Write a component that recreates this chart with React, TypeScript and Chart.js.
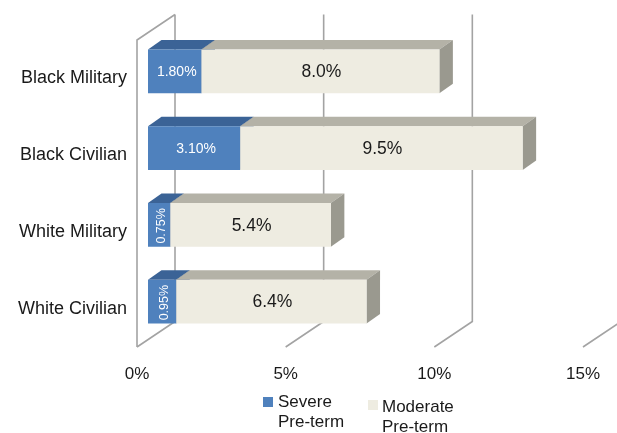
import React, { useEffect, useRef } from "react";
import { Chart, registerables } from "chart.js";

Chart.register(...registerables);

// Pre-term birth rates (%) by group
const categories = ["Black Military", "Black Civilian", "White Military", "White Civilian"];
const severeValues = [1.8, 3.1, 0.75, 0.95];
const moderateValues = [8.0, 9.5, 5.4, 6.4];
const xTickValues = [0, 5, 10, 15];
const seriesNames = ["Severe Pre-term", "Moderate Pre-term"];
const legendLines = [
  ["Severe", "Pre-term"],
  ["Moderate", "Pre-term"],
];

const FONT = '"Liberation Sans", Arial, Helvetica, sans-serif';
const TEXT = "#1a1a1a";

// depth of the 3D box (back wall offset) and of the bars inside it
const WALL = { dx: 38, dy: -25.5 };
const BAR_FRONT = { dx: 11, dy: -7 };
const BAR_DEPTH = { dx: 13.5, dy: -9.5 };

const faces = [
  { front: "#4f81bd", top: "#3b6396", side: "#30527d" },
  { front: "#eeece1", top: "#b4b2a7", side: "#9a998f" },
];

const box3d = {
  id: "box3d",
  beforeDatasetsDraw(chart: any) {
    const { ctx, chartArea: a } = chart;
    const xs = chart.scales.x;
    ctx.save();
    ctx.strokeStyle = "#a3a3a3";
    ctx.lineWidth = 1.6;
    ctx.beginPath();
    // left side wall edges
    ctx.moveTo(a.left, a.bottom);
    ctx.lineTo(a.left, a.top);
    ctx.lineTo(a.left + WALL.dx, a.top + WALL.dy);
    // floor lines and back-wall gridlines
    for (const v of xTickValues) {
      const px = xs.getPixelForValue(v);
      ctx.moveTo(px, a.bottom);
      ctx.lineTo(px + WALL.dx, a.bottom + WALL.dy);
      ctx.lineTo(px + WALL.dx, a.top + WALL.dy);
    }
    ctx.stroke();
    ctx.restore();
  },
  beforeDatasetDraw() {
    return false;
  },
  afterDatasetsDraw(chart: any) {
    const ctx = chart.ctx as CanvasRenderingContext2D;
    const metas = chart.getSortedVisibleDatasetMetas();
    const n = chart.data.labels.length;
    const { dx, dy } = BAR_DEPTH;
    ctx.save();
    for (let i = 0; i < n; i++) {
      metas.forEach((meta: any, di: number) => {
        const el = meta.data[i];
        const { x, y, base, height } = el.getProps(["x", "y", "base", "height"], true);
        const x0 = Math.min(base, x) + BAR_FRONT.dx;
        const x1 = Math.max(base, x) + BAR_FRONT.dx;
        const yt = y - height / 2 + BAR_FRONT.dy;
        const yb = y + height / 2 + BAR_FRONT.dy;
        const c = faces[di];
        // top face
        ctx.fillStyle = c.top;
        ctx.beginPath();
        ctx.moveTo(x0, yt);
        ctx.lineTo(x1, yt);
        ctx.lineTo(x1 + dx, yt + dy);
        ctx.lineTo(x0 + dx, yt + dy);
        ctx.closePath();
        ctx.fill();
        // right face
        ctx.fillStyle = c.side;
        ctx.beginPath();
        ctx.moveTo(x1, yt);
        ctx.lineTo(x1 + dx, yt + dy);
        ctx.lineTo(x1 + dx, yb + dy);
        ctx.lineTo(x1, yb);
        ctx.closePath();
        ctx.fill();
        // front face
        ctx.fillStyle = c.front;
        ctx.fillRect(x0, yt, x1 - x0, yb - yt);
      });
    }
    // value labels on the front faces
    for (let i = 0; i < n; i++) {
      metas.forEach((meta: any, di: number) => {
        const el = meta.data[i];
        const { x, y, base } = el.getProps(["x", "y", "base"], true);
        const x0 = Math.min(base, x) + BAR_FRONT.dx;
        const x1 = Math.max(base, x) + BAR_FRONT.dx;
        const cy = y + BAR_FRONT.dy;
        const cx = (x0 + x1) / 2;
        const v = chart.data.datasets[di].data[i] as number;
        ctx.textAlign = "center";
        ctx.textBaseline = "middle";
        if (di === 0) {
          const text = v.toFixed(2) + "%";
          ctx.fillStyle = "#ffffff";
          if (x1 - x0 < 40) {
            ctx.font = `12.5px ${FONT}`;
            ctx.save();
            ctx.translate(cx + 2, cy + 1);
            ctx.rotate(-Math.PI / 2);
            ctx.fillText(text, 0, 0);
            ctx.restore();
          } else {
            ctx.font = `14px ${FONT}`;
            ctx.fillText(text, cx + 2, cy + 1);
          }
        } else {
          ctx.fillStyle = TEXT;
          ctx.font = `17.5px ${FONT}`;
          ctx.fillText(v.toFixed(1) + "%", cx + 1, cy + 1);
        }
      });
    }
    ctx.restore();
  },
  afterDraw(chart: any) {
    // two-line legend below the axis
    const ctx = chart.ctx as CanvasRenderingContext2D;
    const entries = [
      { sx: 263, sy: 397, tx: 278, ty: 402 },
      { sx: 368, sy: 400, tx: 382, ty: 407 },
    ];
    ctx.save();
    ctx.font = `17px ${FONT}`;
    ctx.textAlign = "left";
    ctx.textBaseline = "middle";
    entries.forEach((e, i) => {
      ctx.fillStyle = faces[i].front;
      ctx.fillRect(e.sx, e.sy, 10, 10);
      ctx.fillStyle = TEXT;
      legendLines[i].forEach((line, li) => ctx.fillText(line, e.tx, e.ty + li * 20));
    });
    ctx.restore();
  },
};

export default function App() {
  const ref = useRef<HTMLCanvasElement>(null);

  useEffect(() => {
    const chart = new Chart(ref.current as HTMLCanvasElement, {
      type: "bar",
      data: {
        labels: categories,
        datasets: [
          {
            label: seriesNames[0],
            data: severeValues,
            backgroundColor: faces[0].front,
            barPercentage: 0.57,
            categoryPercentage: 1,
          },
          {
            label: seriesNames[1],
            data: moderateValues,
            backgroundColor: faces[1].front,
            barPercentage: 0.57,
            categoryPercentage: 1,
          },
        ],
      },
      options: {
        indexAxis: "y",
        responsive: false,
        animation: false,
        devicePixelRatio: 1,
        layout: { padding: { left: 0, top: 40, right: 30, bottom: 0 } },
        plugins: {
          legend: { display: false },
          tooltip: { enabled: false },
        },
        scales: {
          x: {
            type: "linear",
            stacked: true,
            min: 0,
            max: 15,
            grid: { display: false, drawTicks: false },
            border: { display: false },
            afterBuildTicks: (s: any) => {
              s.ticks = xTickValues.map((v) => ({ value: v }));
            },
            ticks: {
              callback: (v: any) => v + "%",
              font: { family: FONT, size: 17 },
              color: TEXT,
              padding: 17,
              maxRotation: 0,
              autoSkip: false,
            },
            afterFit: (s: any) => {
              s.height = 86;
            },
          },
          y: {
            type: "category",
            stacked: true,
            grid: { display: false, drawTicks: false },
            border: { display: false },
            ticks: {
              font: { family: FONT, size: 18 },
              color: TEXT,
              padding: 10,
            },
            afterFit: (s: any) => {
              s.width = 137;
            },
          },
        },
      },
      plugins: [box3d],
    } as any);
    return () => chart.destroy();
  }, []);

  return (
    <div
      style={{
        position: "fixed",
        left: 0,
        top: 0,
        width: 617,
        height: 433,
        background: "#ffffff",
      }}
    >
      <canvas ref={ref} width={617} height={433} style={{ display: "block", width: 617, height: 433 }} />
    </div>
  );
}
